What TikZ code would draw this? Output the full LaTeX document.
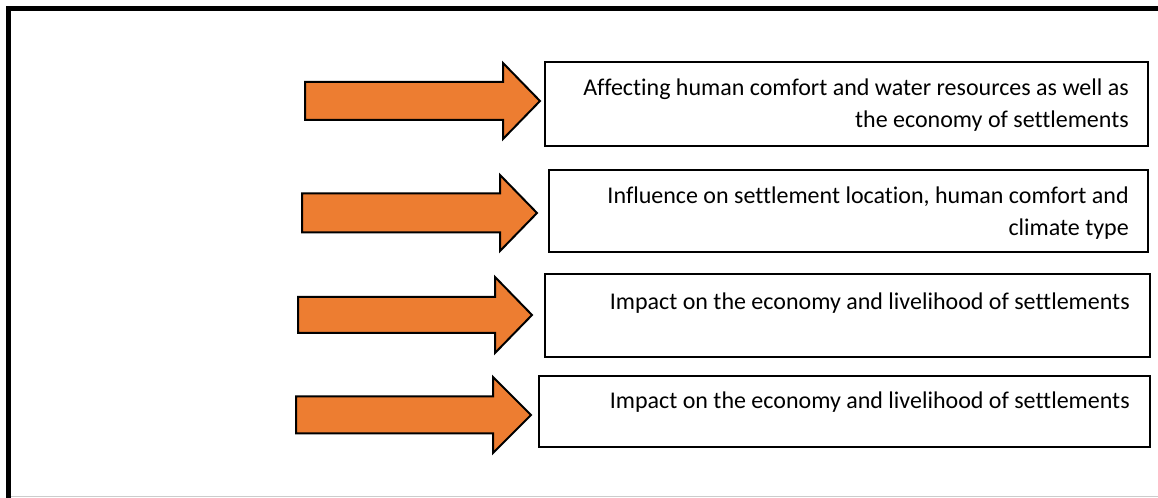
\documentclass[tikz,border=0pt]{standalone}
\usepackage{fontspec}
\setmainfont{Carlito}[Ligatures=NoCommon]
\usetikzlibrary{calc}
\usepackage{xcolor}
\definecolor{arroworange}{RGB}{237,125,49}

\begin{document}
\begin{tikzpicture}[x=0.75pt,y=-0.75pt]
        % ================= styles =================
        \tikzset{
            effectbox/.style={draw=black, line width=1.5pt, anchor=north west, inner sep=0pt},
            effecttext/.style={font=\fontsize{18}{23.5}\selectfont, align=right, anchor=north east, inner sep=0pt},
            blockarrow/.style={draw=black, line width=1.5pt, fill=arroworange, line join=miter}
        }
        \useasboundingbox (0,0) rectangle (1158,498);

        % ================= frame =================
        \draw[gray!40, line width=0.75pt] (8.5,496.5) -- (1158,496.5);
        \draw[line width=3.75pt] (8.5,498) -- (8.5,8.5) -- (1160,8.5);

        % ================= boxes =================
        \node[effectbox, minimum width=603*0.75pt, minimum height=84*0.75pt] (box1) at (544,61) {};
        \node[effectbox, minimum width=599*0.75pt, minimum height=82*0.75pt] (box2) at (548,169) {};
        \node[effectbox, minimum width=605*0.75pt, minimum height=83*0.75pt] (box3) at (544,273) {};
        \node[effectbox, minimum width=611*0.75pt, minimum height=71*0.75pt] (box4) at (538,375) {};

        % texts, right aligned near the top edge
        \node[effecttext] (txt1) at ($(box1.north east)+(-20,18)$)
            {Affecting human comfort and water resources as well as\\the economy of settlements};
        \node[effecttext] (txt2) at ($(box2.north east)+(-20,18)$)
            {Influence on settlement location, human comfort and\\climate type};
        \node[effecttext] (txt3) at ($(box3.north east)+(-21,20)$)
            {Impact on the economy and livelihood of settlements};
        \node[effecttext] (txt4) at ($(box4.north east)+(-21,17)$)
            {Impact on the economy and livelihood of settlements};

        % ================= arrows =================
        % tail x / head base x / tip x / tip y / shaft half / head half
        \foreach \xl/\xs/\xt/\yt/\hs/\hh in {305/503/540/101/19/38, 302/500/537/213/19.5/38,
                                          298/495/532/315/18/38, 296/493/531/415/18.5/38}
        {
            \draw[blockarrow] (\xl,\yt-\hs) -- (\xs,\yt-\hs) -- (\xs,\yt-\hh) -- (\xt,\yt)
                -- (\xs,\yt+\hh) -- (\xs,\yt+\hs) -- (\xl,\yt+\hs) -- cycle;
        }

    \end{tikzpicture}
\end{document}
